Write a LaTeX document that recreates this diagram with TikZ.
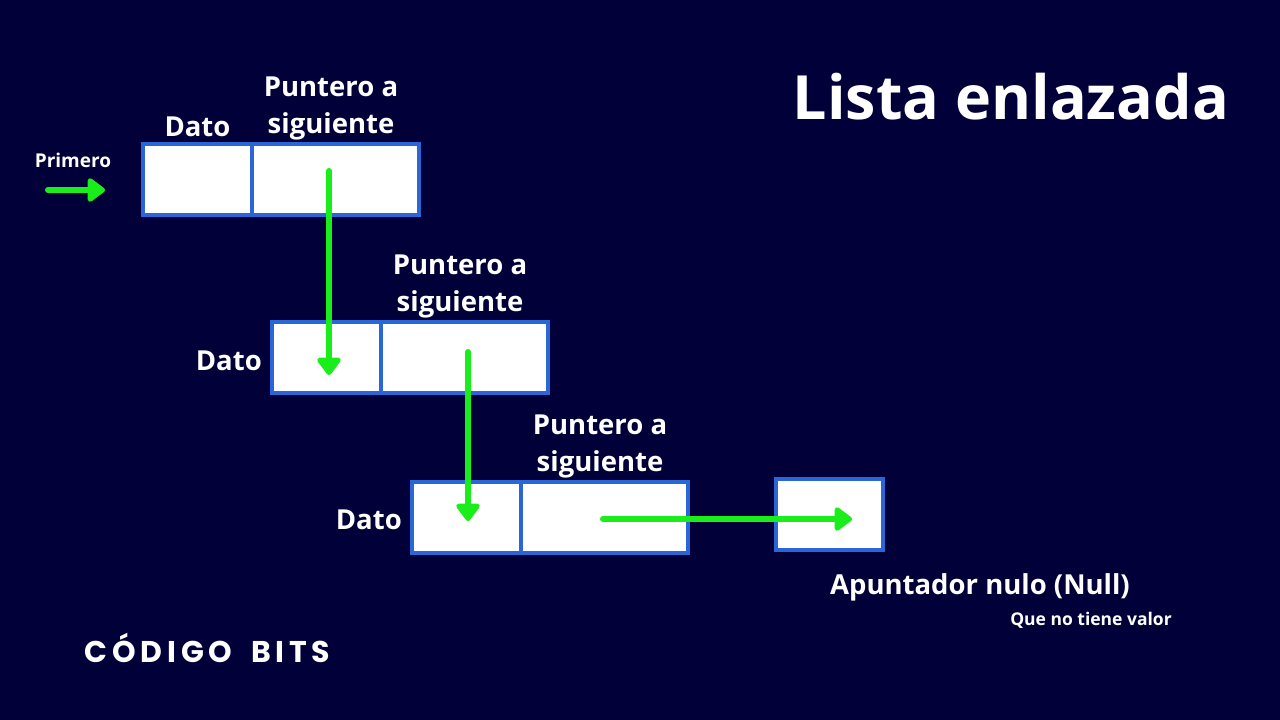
\documentclass[tikz,border=0pt]{standalone}
\usepackage{fontspec}
\setmainfont{Open Sans}
\newfontfamily\brandfont[LetterSpace=16]{Poppins}
\usetikzlibrary{arrows.meta,positioning,calc}

\definecolor{bgnavy}{RGB}{2,0,56}
\definecolor{cellblue}{RGB}{42,102,214}
\definecolor{linkgreen}{RGB}{26,238,26}

\begin{document}
\begin{tikzpicture}
[
  x=1pt, y=-1pt,
  cell/.style={draw=cellblue,line width=3.5pt,fill=white,minimum height=71pt,inner sep=0pt,outer sep=0pt},
  dato/.style={cell,minimum width=109pt},
  ptr/.style={cell,minimum width=167pt},
  link/.style={draw=linkgreen,line width=6pt,line cap=round,-{Triangle[length=19pt,width=27pt,round]}},
  lbl/.style={text=white,font=\bfseries\fontsize{27.5}{37}\selectfont,align=center,inner sep=0pt},
  small/.style={text=white,font=\bfseries\fontsize{18}{20}\selectfont,inner sep=0pt}
]

% fondo
\fill[bgnavy] (0,0) rectangle (1280,720);

% titulo
\node[lbl,font=\bfseries\fontsize{61}{70}\selectfont] (title) at (1011,97) {Lista enlazada};

% nodo 1
\node[dato] (d1) at (197.5,179.5) {};
\node[ptr,right=0pt of d1] (p1) {};
\node[lbl,above=7.5pt of d1] (dato1) {Dato};
\node[lbl,anchor=south] (ptr1) at ($(p1.north)+(-4.5,-3.5)$) {Puntero a\\siguiente};

% nodo 2
\node[dato] (d2) at (326.5,357.5) {};
\node[ptr,right=0pt of d2] (p2) {};
\node[lbl,left=10pt of d2,yshift=-3.5pt] (dato2) {Dato};
\node[lbl,anchor=south] (ptr2) at ($(p2.north)+(-4.5,-3.5)$) {Puntero a\\siguiente};

% nodo 3
\node[dato] (d3) at (466.5,517.5) {};
\node[ptr,right=0pt of d3] (p3) {};
\node[lbl,left=10pt of d3,yshift=-2.5pt] (dato3) {Dato};
\node[lbl,anchor=south] (ptr3) at ($(p3.north)+(-4.5,-3.5)$) {Puntero a\\siguiente};

% nulo
\node[cell,minimum width=107pt] (null) at (829.5,514.5) {};
\node[lbl] (nulltxt) at (980,587) {Apuntador nulo (Null)};
\node[small,font=\bfseries\fontsize{17.5}{20}\selectfont] (nullsub) at (1091,620) {Que no tiene valor};

% primero
\node[small,font=\bfseries\fontsize{19}{20}\selectfont] (first) at (73,160) {Primero};
\coordinate (firsts) at (48,190);
\draw[link] (firsts) -- ++(57,0);

% enlaces
\draw[link] ($(p1.center)+(-6.5,-8.5)$) -- ($(d2.center)+(2.5,17.5)$);
\draw[link] ($(p2.center)+(3.5,-5.5)$) -- ($(d3.center)+(1.5,3.5)$);
\draw[link] ($(p3.center)+(-1.5,1.5)$) -- ($(null.center)+(22.5,4.5)$);

% marca
\node[text=white,font=\brandfont\fontsize{30}{34}\selectfont,inner sep=0pt] (brand) at (210,648) {\textbf{CÓDIGO}\hspace{14pt}\textbf{BITS}};

\end{tikzpicture}
\end{document}
